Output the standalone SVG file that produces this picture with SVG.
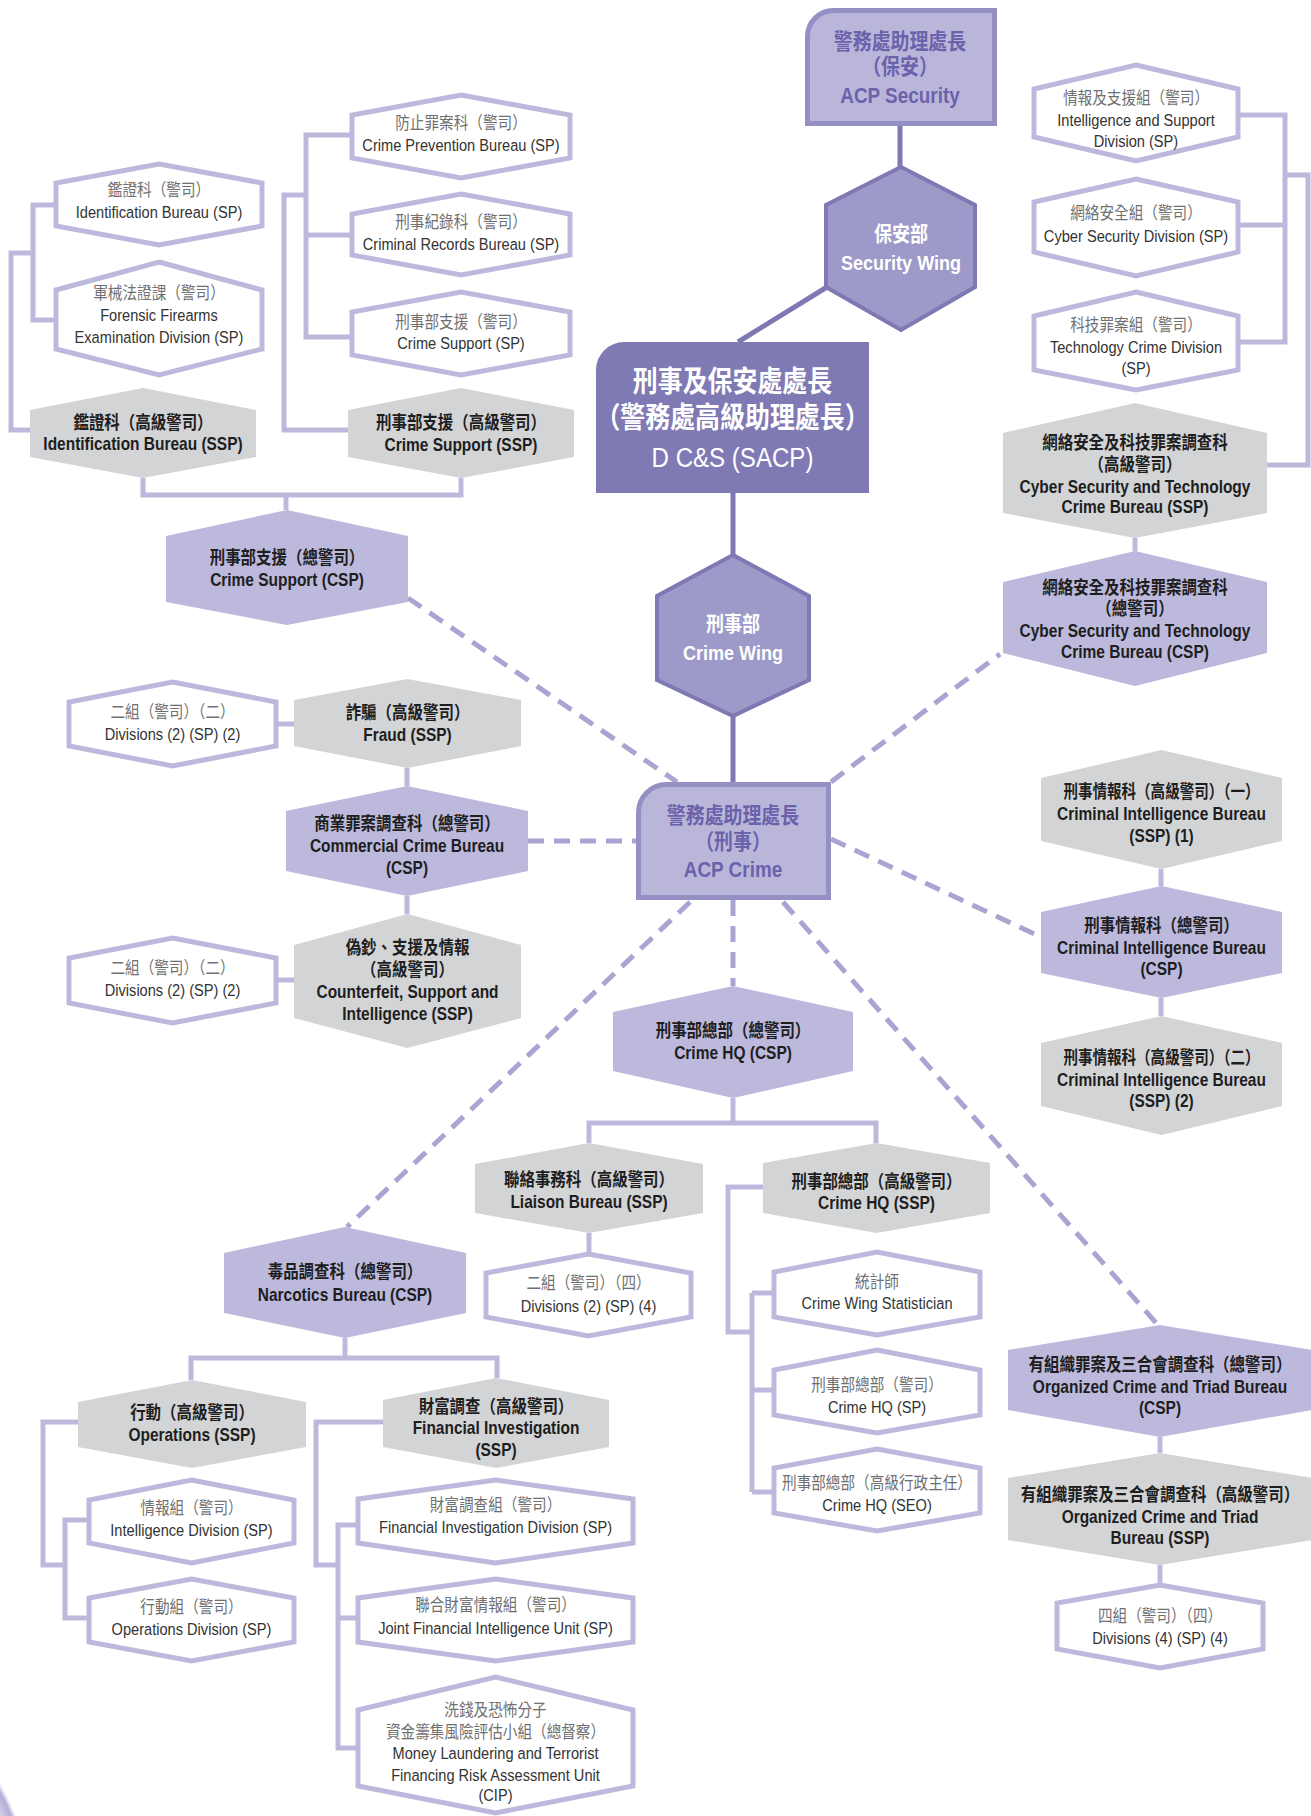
<svg xmlns="http://www.w3.org/2000/svg" width="1311" height="1816" viewBox="0 0 1311 1816">
<style>
text{font-family:"Liberation Sans","Noto Sans CJK TC",sans-serif;text-anchor:middle}
.t{font-size:17px}
.t .c{fill:#707072}
.t .e{fill:#333}
.b{font-size:18px;font-weight:700;fill:#1e1e1e}
.sp{fill:#fff;stroke:#bdb9dd;stroke-width:5}
.ssp{fill:#d3d4d6}
.csp{fill:#bcb9dc}
.wing{fill:#9d99c8;stroke:#7f79b3;stroke-width:4}
.acp{fill:#bab6da;stroke:#9590c4;stroke-width:5}
.dcs{fill:#807ab4}
.ln{fill:none;stroke:#bdb9dd;stroke-width:5}
.dk{fill:none;stroke:#7f79b3;stroke-width:5}
.ds{fill:none;stroke:#a9a5d3;stroke-width:5;stroke-dasharray:16 10}
.ttl{font-weight:700;fill:#6a62aa;font-size:22px}
.wt{font-weight:700;fill:#fff;font-size:21px}
.dt{fill:#fff}
.d1{font-size:29px;font-weight:700}
.d2{font-size:28px}
</style>
<defs>
<radialGradient id="glow" cx="-200" cy="1900" r="232" gradientUnits="userSpaceOnUse">
<stop offset="0.86" stop-color="#bdb9dd" stop-opacity="0"/>
<stop offset="0.98" stop-color="#a9a5d3" stop-opacity="0.9"/>
<stop offset="1" stop-color="#bdb9dd" stop-opacity="0"/>
</radialGradient>
</defs>
<rect width="1311" height="1816" fill="#fff"/>
<circle cx="-200" cy="1900" r="232" fill="url(#glow)"/>

<g id="connectors">
<path class="ln" d="M56,205 H33 V320 H56 M33,253 H11 V430 H30"/>
<path class="ln" d="M352,135 H306 V337 H352 M306,235 H352 M306,195 H284 V430 H348"/>
<path class="ln" d="M143,478 V495 H461 V478 M286,495 V510"/>
<path class="ln" d="M1238,115 H1285 V342 H1238 M1238,225 H1285 M1285,175 H1308 V465 H1267"/>
<path class="ln" d="M1135,538 V551"/>
<path class="ln" d="M276,724 H294 M407,768 V786 M407,896 V914 M276,980 H294"/>
<path class="ln" d="M1161,869 V886 M1161,998 V1016"/>
<path class="ln" d="M733,1098 V1123 M589,1143 V1123 H876 V1143 M589,1233 V1254"/>
<path class="ln" d="M763,1187 H728 V1332 H752 M752,1293 V1492 M752,1293 H774 M752,1390 H774 M752,1492 H774"/>
<path class="ln" d="M1160,1437 V1453 M1160,1565 V1585"/>
<path class="ln" d="M345,1338 V1358 M191,1380 V1358 H497 V1378"/>
<path class="ln" d="M78,1422 H43 V1565 H65 M89,1520 H65 V1618 H89"/>
<path class="ln" d="M383,1422 H316 V1565 H338 M358,1525 H338 V1748 H358 M338,1618 H358"/>
<path class="dk" d="M900,126 V167 M827,287 L738,342 M733,493 V555 M733,716 V782"/>
<path class="ds" d="M408,598 L677,782"/>
<path class="ds" d="M528,841 H636"/>
<path class="ds" d="M831,782 L1000,654"/>
<path class="ds" d="M831,839 L1041,937"/>
<path class="ds" d="M733,900 V986"/>
<path class="ds" d="M690,902 L347,1227"/>
<path class="ds" d="M783,902 L1158,1325"/>
</g>

<g id="acp-security">
<path class="acp" d="M807.5,123.5 V36.5 A26,26 0 0 1 833.5,10.5 H994.5 V123.5 Z"/>
<text class="ttl" transform="translate(900 0) scale(.86 1)"><tspan x="0" y="49">警務處助理處長</tspan><tspan x="0" y="74">（保安）</tspan><tspan x="0" y="103">ACP Security</tspan></text>
</g>
<g id="security-wing">
<polygon class="wing" points="901,167 975,205 975,287 901,330 826,287 826,205"/>
<text class="wt" transform="translate(901 0) scale(.86 1)"><tspan x="0" y="241">保安部</tspan><tspan x="0" y="270">Security Wing</tspan></text>
</g>
<g id="dcs">
<path class="dcs" d="M596,493 V370 A28,28 0 0 1 624,342 H869 V493 Z"/>
<text class="dt" transform="translate(732.5 0) scale(.86 1)"><tspan class="d1" x="0" y="392">刑事及保安處處長</tspan><tspan class="d1" x="0" y="428">（警務處高級助理處長）</tspan><tspan class="d2" x="0" y="467">D C&amp;S (SACP)</tspan></text>
</g>
<g id="crime-wing">
<polygon class="wing" points="733,555 809,596 809,680 733,716 657,680 657,596"/>
<text class="wt" transform="translate(733 0) scale(.86 1)"><tspan x="0" y="631">刑事部</tspan><tspan x="0" y="660">Crime Wing</tspan></text>
</g>
<g id="acp-crime">
<path class="acp" d="M638.5,897.5 V812.5 A28,28 0 0 1 666.5,784.5 H828.5 V897.5 Z"/>
<text class="ttl" transform="translate(733 0) scale(.86 1)"><tspan x="0" y="823">警務處助理處長</tspan><tspan x="0" y="849">（刑事）</tspan><tspan x="0" y="877">ACP Crime</tspan></text>
</g>

<g id="crime-prevention-sp">
<polygon class="sp" points="461,95 570,115 570,158 461,178 352,158 352,115"/>
<text class="t" transform="translate(461 0) scale(.86 1)"><tspan class="c" x="0" y="129">防止罪案科（警司）</tspan><tspan class="e" x="0" y="151">Crime Prevention Bureau (SP)</tspan></text>
</g>
<g id="criminal-records-sp">
<polygon class="sp" points="461,194 570,214 570,255 461,275 352,255 352,214"/>
<text class="t" transform="translate(461 0) scale(.86 1)"><tspan class="c" x="0" y="228">刑事紀錄科（警司）</tspan><tspan class="e" x="0" y="250">Criminal Records Bureau (SP)</tspan></text>
</g>
<g id="crime-support-sp">
<polygon class="sp" points="461,292 570,312 570,355 461,375 352,355 352,312"/>
<text class="t" transform="translate(461 0) scale(.86 1)"><tspan class="c" x="0" y="328">刑事部支援（警司）</tspan><tspan class="e" x="0" y="349">Crime Support (SP)</tspan></text>
</g>
<g id="crime-support-ssp">
<polygon class="ssp" points="461,388 574,410 574,457 461,478 348,457 348,410"/>
<text class="b" transform="translate(461 0) scale(.86 1)"><tspan x="0" y="429">刑事部支援（高級警司）</tspan><tspan x="0" y="451">Crime Support (SSP)</tspan></text>
</g>
<g id="identification-sp">
<polygon class="sp" points="159,164 262,183 262,226 159,245 56,226 56,183"/>
<text class="t" transform="translate(159 0) scale(.86 1)"><tspan class="c" x="0" y="196">鑑證科（警司）</tspan><tspan class="e" x="0" y="218">Identification Bureau (SP)</tspan></text>
</g>
<g id="forensic-firearms-sp">
<polygon class="sp" points="159,262 262,290 262,349 159,375 56,349 56,290"/>
<text class="t" transform="translate(159 0) scale(.86 1)"><tspan class="c" x="0" y="299">軍械法證課（警司）</tspan><tspan class="e" x="0" y="321">Forensic Firearms</tspan><tspan class="e" x="0" y="343">Examination Division (SP)</tspan></text>
</g>
<g id="identification-ssp">
<polygon class="ssp" points="143,388 256,410 256,457 143,478 30,457 30,410"/>
<text class="b" transform="translate(143 0) scale(.86 1)"><tspan x="0" y="429">鑑證科（高級警司）</tspan><tspan x="0" y="450">Identification Bureau (SSP)</tspan></text>
</g>
<g id="crime-support-csp">
<polygon class="csp" points="287,510 408,536 408,602 287,625 166,602 166,536"/>
<text class="b" transform="translate(287 0) scale(.86 1)"><tspan x="0" y="564">刑事部支援（總警司）</tspan><tspan x="0" y="586">Crime Support (CSP)</tspan></text>
</g>
<g id="divisions-2-a">
<polygon class="sp" points="172.5,682 276,702 276,746 172.5,766 69,746 69,702"/>
<text class="t" transform="translate(172.5 0) scale(.86 1)"><tspan class="c" x="0" y="718">二組（警司）（二）</tspan><tspan class="e" x="0" y="740">Divisions (2) (SP) (2)</tspan></text>
</g>
<g id="fraud-ssp">
<polygon class="ssp" points="407.5,679 521,700 521,746 407.5,768 294,746 294,700"/>
<text class="b" transform="translate(407.5 0) scale(.86 1)"><tspan x="0" y="719">詐騙（高級警司）</tspan><tspan x="0" y="741">Fraud (SSP)</tspan></text>
</g>
<g id="commercial-crime-csp">
<polygon class="csp" points="407,786 528,811 528,871 407,896 286,871 286,811"/>
<text class="b" transform="translate(407 0) scale(.86 1)"><tspan x="0" y="830">商業罪案調查科（總警司）</tspan><tspan x="0" y="852">Commercial Crime Bureau</tspan><tspan x="0" y="874">(CSP)</tspan></text>
</g>
<g id="counterfeit-ssp">
<polygon class="ssp" points="407.5,914 521,945 521,1018 407.5,1048 294,1018 294,945"/>
<text class="b" transform="translate(407.5 0) scale(.86 1)"><tspan x="0" y="954">偽鈔、支援及情報</tspan><tspan x="0" y="976">（高級警司）</tspan><tspan x="0" y="998">Counterfeit, Support and</tspan><tspan x="0" y="1020">Intelligence (SSP)</tspan></text>
</g>
<g id="divisions-2-b">
<polygon class="sp" points="172.5,938 276,958 276,1003 172.5,1023 69,1003 69,958"/>
<text class="t" transform="translate(172.5 0) scale(.86 1)"><tspan class="c" x="0" y="974">二組（警司）（二）</tspan><tspan class="e" x="0" y="996">Divisions (2) (SP) (2)</tspan></text>
</g>

<g id="intelligence-support-sp">
<polygon class="sp" points="1136,65 1238,89 1238,137 1136,161 1034,137 1034,89"/>
<text class="t" transform="translate(1136 0) scale(.86 1)"><tspan class="c" x="0" y="104">情報及支援組（警司）</tspan><tspan class="e" x="0" y="126">Intelligence and Support</tspan><tspan class="e" x="0" y="147">Division (SP)</tspan></text>
</g>
<g id="cyber-security-sp">
<polygon class="sp" points="1136,179 1238,202 1238,252 1136,276 1034,252 1034,202"/>
<text class="t" transform="translate(1136 0) scale(.86 1)"><tspan class="c" x="0" y="219">網絡安全組（警司）</tspan><tspan class="e" x="0" y="242">Cyber Security Division (SP)</tspan></text>
</g>
<g id="technology-crime-sp">
<polygon class="sp" points="1136,292 1238,316 1238,370 1136,390 1034,370 1034,316"/>
<text class="t" transform="translate(1136 0) scale(.86 1)"><tspan class="c" x="0" y="331">科技罪案組（警司）</tspan><tspan class="e" x="0" y="353">Technology Crime Division</tspan><tspan class="e" x="0" y="374">(SP)</tspan></text>
</g>
<g id="cstcb-ssp">
<polygon class="ssp" points="1135,403 1267,433 1267,513 1135,538 1003,513 1003,433"/>
<text class="b" transform="translate(1135 0) scale(.86 1)"><tspan x="0" y="449">網絡安全及科技罪案調查科</tspan><tspan x="0" y="471">（高級警司）</tspan><tspan x="0" y="493">Cyber Security and Technology</tspan><tspan x="0" y="513">Crime Bureau (SSP)</tspan></text>
</g>
<g id="cstcb-csp">
<polygon class="csp" points="1135,551 1267,582 1267,653 1135,686 1003,653 1003,582"/>
<text class="b" transform="translate(1135 0) scale(.86 1)"><tspan x="0" y="594">網絡安全及科技罪案調查科</tspan><tspan x="0" y="615">（總警司）</tspan><tspan x="0" y="637">Cyber Security and Technology</tspan><tspan x="0" y="658">Crime Bureau (CSP)</tspan></text>
</g>
<g id="cib-ssp-1">
<polygon class="ssp" points="1161.5,750 1282,778 1282,841 1161.5,869 1041,841 1041,778"/>
<text class="b" transform="translate(1161.5 0) scale(.86 1)"><tspan x="0" y="798" textLength="228" lengthAdjust="spacingAndGlyphs">刑事情報科（高級警司）（一）</tspan><tspan x="0" y="820">Criminal Intelligence Bureau</tspan><tspan x="0" y="842">(SSP) (1)</tspan></text>
</g>
<g id="cib-csp">
<polygon class="csp" points="1161.5,886 1282,912 1282,973 1161.5,998 1041,973 1041,912"/>
<text class="b" transform="translate(1161.5 0) scale(.86 1)"><tspan x="0" y="932">刑事情報科（總警司）</tspan><tspan x="0" y="954">Criminal Intelligence Bureau</tspan><tspan x="0" y="975">(CSP)</tspan></text>
</g>
<g id="cib-ssp-2">
<polygon class="ssp" points="1161.5,1016 1282,1043 1282,1106 1161.5,1135 1041,1106 1041,1043"/>
<text class="b" transform="translate(1161.5 0) scale(.86 1)"><tspan x="0" y="1064" textLength="228" lengthAdjust="spacingAndGlyphs">刑事情報科（高級警司）（二）</tspan><tspan x="0" y="1086">Criminal Intelligence Bureau</tspan><tspan x="0" y="1107">(SSP) (2)</tspan></text>
</g>

<g id="crime-hq-csp">
<polygon class="csp" points="733,986 853,1012 853,1071 733,1098 613,1071 613,1012"/>
<text class="b" transform="translate(733 0) scale(.86 1)"><tspan x="0" y="1037">刑事部總部（總警司）</tspan><tspan x="0" y="1059">Crime HQ (CSP)</tspan></text>
</g>
<g id="liaison-ssp">
<polygon class="ssp" points="589,1143 703,1164 703,1213 589,1233 475,1213 475,1164"/>
<text class="b" transform="translate(589 0) scale(.86 1)"><tspan x="0" y="1186">聯絡事務科（高級警司）</tspan><tspan x="0" y="1208">Liaison Bureau (SSP)</tspan></text>
</g>
<g id="divisions-2-4">
<polygon class="sp" points="588.5,1254 691,1273 691,1317 588.5,1336 486,1317 486,1273"/>
<text class="t" transform="translate(588.5 0) scale(.86 1)"><tspan class="c" x="0" y="1289">二組（警司）（四）</tspan><tspan class="e" x="0" y="1312">Divisions (2) (SP) (4)</tspan></text>
</g>
<g id="crime-hq-ssp">
<polygon class="ssp" points="876.5,1143 990,1163 990,1213 876.5,1233 763,1213 763,1163"/>
<text class="b" transform="translate(876.5 0) scale(.86 1)"><tspan x="0" y="1188">刑事部總部（高級警司）</tspan><tspan x="0" y="1209">Crime HQ (SSP)</tspan></text>
</g>
<g id="statistician">
<polygon class="sp" points="877,1252 980,1272 980,1317 877,1335 774,1317 774,1272"/>
<text class="t" transform="translate(877 0) scale(.86 1)"><tspan class="c" x="0" y="1288">統計師</tspan><tspan class="e" x="0" y="1309">Crime Wing Statistician</tspan></text>
</g>
<g id="crime-hq-sp">
<polygon class="sp" points="877,1350 980,1370 980,1415 877,1433 774,1415 774,1370"/>
<text class="t" transform="translate(877 0) scale(.86 1)"><tspan class="c" x="0" y="1391">刑事部總部（警司）</tspan><tspan class="e" x="0" y="1413">Crime HQ (SP)</tspan></text>
</g>
<g id="crime-hq-seo">
<polygon class="sp" points="877,1449 980,1468 980,1513 877,1531 774,1513 774,1468"/>
<text class="t" transform="translate(877 0) scale(.86 1)"><tspan class="c" x="0" y="1489">刑事部總部（高級行政主任）</tspan><tspan class="e" x="0" y="1511">Crime HQ (SEO)</tspan></text>
</g>
<g id="octb-csp">
<polygon class="csp" points="1160,1325 1312,1350 1312,1410 1160,1437 1008,1410 1008,1350"/>
<text class="b" transform="translate(1160 0) scale(.86 1)"><tspan x="0" y="1371">有組織罪案及三合會調查科（總警司）</tspan><tspan x="0" y="1393">Organized Crime and Triad Bureau</tspan><tspan x="0" y="1414">(CSP)</tspan></text>
</g>
<g id="octb-ssp">
<polygon class="ssp" points="1160,1453 1312,1478 1312,1540 1160,1565 1008,1540 1008,1478"/>
<text class="b" transform="translate(1160 0) scale(.86 1)"><tspan x="0" y="1501">有組織罪案及三合會調查科（高級警司）</tspan><tspan x="0" y="1523">Organized Crime and Triad</tspan><tspan x="0" y="1544">Bureau (SSP)</tspan></text>
</g>
<g id="divisions-4-4">
<polygon class="sp" points="1160,1585 1263,1603 1263,1649 1160,1668 1057,1649 1057,1603"/>
<text class="t" transform="translate(1160 0) scale(.86 1)"><tspan class="c" x="0" y="1622">四組（警司）（四）</tspan><tspan class="e" x="0" y="1644">Divisions (4) (SP) (4)</tspan></text>
</g>

<g id="narcotics-csp">
<polygon class="csp" points="345,1227 466,1253 466,1313 345,1338 224,1313 224,1253"/>
<text class="b" transform="translate(345 0) scale(.86 1)"><tspan x="0" y="1278">毒品調查科（總警司）</tspan><tspan x="0" y="1301">Narcotics Bureau (CSP)</tspan></text>
</g>
<g id="operations-ssp">
<polygon class="ssp" points="192,1380 306,1402 306,1447 192,1468 78,1447 78,1402"/>
<text class="b" transform="translate(192 0) scale(.86 1)"><tspan x="0" y="1419">行動（高級警司）</tspan><tspan x="0" y="1441">Operations (SSP)</tspan></text>
</g>
<g id="financial-investigation-ssp">
<polygon class="ssp" points="496,1378 609,1400 609,1447 496,1468 383,1447 383,1400"/>
<text class="b" transform="translate(496 0) scale(.86 1)"><tspan x="0" y="1413">財富調查（高級警司）</tspan><tspan x="0" y="1434">Financial Investigation</tspan><tspan x="0" y="1456">(SSP)</tspan></text>
</g>
<g id="intelligence-division-sp">
<polygon class="sp" points="191.5,1480 294,1500 294,1543 191.5,1563 89,1543 89,1500"/>
<text class="t" transform="translate(191.5 0) scale(.86 1)"><tspan class="c" x="0" y="1514">情報組（警司）</tspan><tspan class="e" x="0" y="1536">Intelligence Division (SP)</tspan></text>
</g>
<g id="operations-division-sp">
<polygon class="sp" points="191.5,1579 294,1598 294,1642 191.5,1661 89,1642 89,1598"/>
<text class="t" transform="translate(191.5 0) scale(.86 1)"><tspan class="c" x="0" y="1613">行動組（警司）</tspan><tspan class="e" x="0" y="1635">Operations Division (SP)</tspan></text>
</g>
<g id="financial-investigation-division-sp">
<polygon class="sp" points="495.5,1480 633,1499 633,1543 495.5,1563 358,1543 358,1499"/>
<text class="t" transform="translate(495.5 0) scale(.86 1)"><tspan class="c" x="0" y="1511">財富調查組（警司）</tspan><tspan class="e" x="0" y="1533">Financial Investigation Division (SP)</tspan></text>
</g>
<g id="jfiu-sp">
<polygon class="sp" points="495.5,1579 633,1598 633,1642 495.5,1661 358,1642 358,1598"/>
<text class="t" transform="translate(495.5 0) scale(.86 1)"><tspan class="c" x="0" y="1611">聯合財富情報組（警司）</tspan><tspan class="e" x="0" y="1634">Joint Financial Intelligence Unit (SP)</tspan></text>
</g>
<g id="mltf-cip">
<polygon class="sp" points="495.5,1677 633,1710 633,1786 495.5,1813 358,1786 358,1710"/>
<text class="t" transform="translate(495.5 0) scale(.86 1)"><tspan class="c" x="0" y="1716">洗錢及恐怖分子</tspan><tspan class="c" x="0" y="1738">資金籌集風險評估小組（總督察）</tspan><tspan class="e" x="0" y="1759">Money Laundering and Terrorist</tspan><tspan class="e" x="0" y="1781">Financing Risk Assessment Unit</tspan><tspan class="e" x="0" y="1801">(CIP)</tspan></text>
</g>
</svg>
